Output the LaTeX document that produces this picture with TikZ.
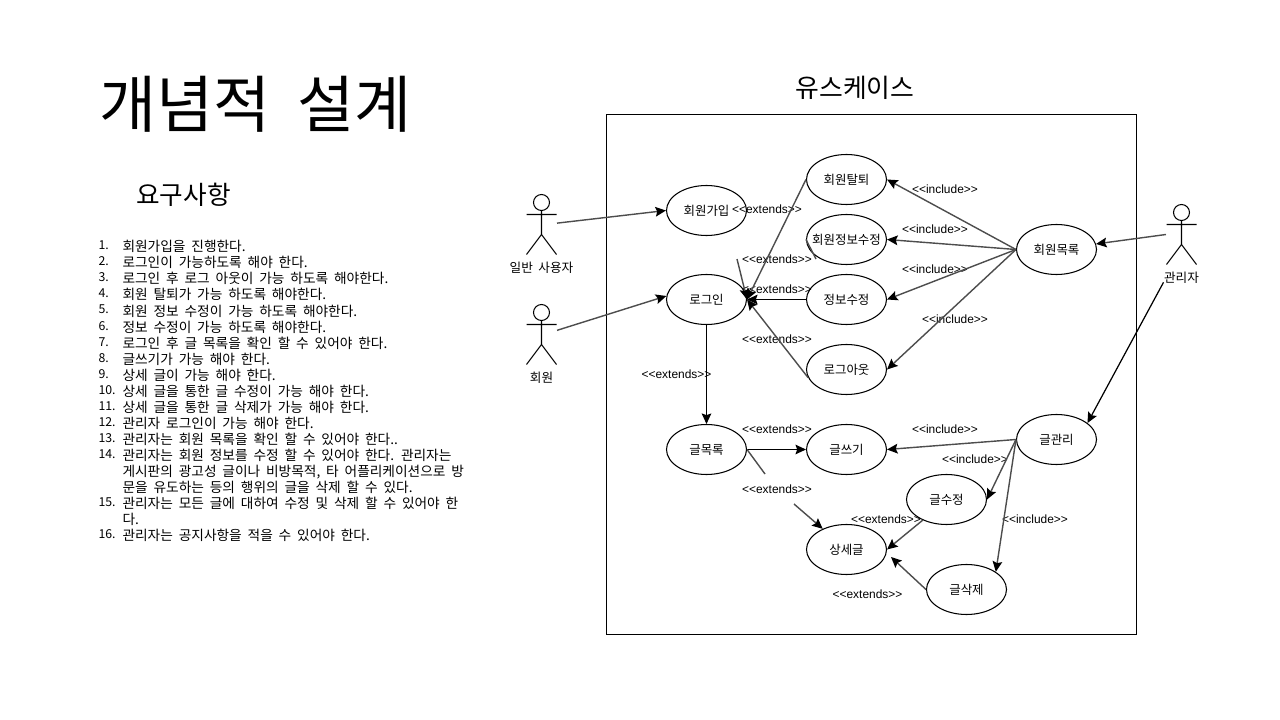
\documentclass[tikz,border=0pt]{standalone}
\usepackage{fontspec}
\setmainfont{Noto Sans CJK KR}
\newfontfamily\latinfont{Liberation Sans}
\newfontfamily\listfamily[WordSpace=1.8]{Noto Sans CJK KR}
\newfontfamily\titlefamily[WordSpace=1.9]{Noto Sans CJK KR}
\definecolor{cgrey}{HTML}{4D4D4D}
\usetikzlibrary{arrows.meta, shapes.geometric}
\tikzset{
  every picture/.style={line width=0.6pt},
  usecase/.style={draw, ellipse, minimum width=16mm, minimum height=10mm, inner sep=-2mm, font=\fontsize{7.1pt}{9pt}\selectfont},
  actorbox/.style={minimum width=6mm, minimum height=12mm, inner sep=0pt},
  actorname/.style={inner sep=0pt, font=\listfamily\fontsize{7.2pt}{9pt}\selectfont},
  stereo/.style={inner sep=0.5pt, font=\latinfont\fontsize{6.8pt}{8pt}\selectfont},
  arrow/.style={-{Stealth[length=6pt, width=5.5pt, inset=1pt, color=black]}},
  slant/.style={arrow, draw=cgrey, line width=0.8pt},
  stub/.style={draw=cgrey, line width=0.8pt},
  listnum/.style={anchor=north west, align=left, inner sep=0pt, font=\fontsize{7pt}{9.13pt}\selectfont},
  listtext/.style={anchor=north west, align=left, inner sep=0pt, font=\listfamily\fontsize{7.8pt}{9.13pt}\selectfont},
}
\begin{document}
\begin{tikzpicture}[x=0.2mm, y=-0.2mm]
  \useasboundingbox (0,0) rectangle (1280,720);
  % titles
  \node[inner sep=0pt, font=\titlefamily\fontsize{35.3pt}{40pt}\selectfont] (title) at (255.5,104) {개념적 설계};
  \node[inner sep=0pt, font=\fontsize{14.6pt}{16pt}\selectfont] (reqtitle) at (183.5,195) {요구사항};
  \node[inner sep=0pt, font=\fontsize{14.7pt}{16pt}\selectfont] (uctitle) at (855,88) {유스케이스};
  % requirements
  \node[listnum] (reqnum) at (98,240.5) {1.\\2.\\3.\\4.\\5.\\6.\\7.\\8.\\9.\\10.\\11.\\12.\\13.\\14.\\[18.26pt]15.\\[9.13pt]16.};
  \node[listtext] (reqtext) at (122,240) {회원가입을 진행한다.\\로그인이 가능하도록 해야 한다.\\로그인 후 로그 아웃이 가능 하도록 해야한다.\\회원 탈퇴가 가능 하도록 해야한다.\\회원 정보 수정이 가능 하도록 해야한다.\\정보 수정이 가능 하도록 해야한다.\\로그인 후 글 목록을 확인 할 수 있어야 한다.\\글쓰기가 가능 해야 한다.\\상세 글이 가능 해야 한다.\\상세 글을 통한 글 수정이 가능 해야 한다.\\상세 글을 통한 글 삭제가 가능 해야 한다.\\관리자 로그인이 가능 해야 한다.\\관리자는 회원 목록을 확인 할 수 있어야 한다..\\관리자는 회원 정보를 수정 할 수 있어야 한다. 관리자는\\게시판의 광고성 글이나 비방목적, 타 어플리케이션으로 방\\문을 유도하는 등의 행위의 글을 삭제 할 수 있다.\\관리자는 모든 글에 대하여 수정 및 삭제 할 수 있어야 한\\다.\\관리자는 공지사항을 적을 수 있어야 한다.};
  % system boundary
  \draw (606.5,114.5) rectangle (1136.5,634.5);
  % actors
  \foreach \n/\x/\y/\t in {guest/541.5/224.5/일반 사용자, member/541.5/334.5/회원, admin/1181.5/234.5/관리자} {
    \node[actorbox] (\n) at (\x,\y) {};
    \node[actorname] (\n-name) at (\x,\y+43) {\t};
    \draw (\x,\y-22) circle [radius=8];
    \draw (\x,\y-14) -- (\x,\y+10) -- (\x-15,\y+30) (\x,\y+10) -- (\x+15,\y+30) (\x-15,\y-10) -- (\x+15,\y-10);
  }
  % use cases
  \begin{scope}[shift={(0.5,0.5)}]
  \node[usecase] (signup) at (706,210) {회원가입};
  \node[usecase] (login) at (706,299) {로그인};
  \node[usecase] (leave) at (846,179) {회원탈퇴};
  \node[usecase] (memberedit) at (846,239) {회원정보수정};
  \node[usecase] (infoedit) at (846,299) {정보수정};
  \node[usecase] (logout) at (846,369) {로그아웃};
  \node[usecase] (memberlist) at (1056,249) {회원목록};
  \node[usecase] (postlist) at (706,449) {글목록};
  \node[usecase] (write) at (846,449) {글쓰기};
  \node[usecase] (detail) at (846,549) {상세글};
  \node[usecase] (edit) at (946,499) {글수정};
  \node[usecase] (delete) at (966,589) {글삭제};
  \node[usecase] (manage) at (1056,439) {글관리};
  \end{scope}
  % labels
  \foreach \n/\x/\y in {ext1/767/209, ext2/777/259, ext3/777/289, ext4/777/339, ext5/676.5/374, ext6/777/429, ext7/777/489, ext8/886/519, ext9/867.5/594}
    \node[stereo] (\n) at (\x,\y) {<<extends>>};
  \foreach \n/\x/\y in {inc1/945/189, inc2/935/229, inc3/935/269, inc4/955/319, inc5/945/429, inc6/975/459, inc7/1035/519}
    \node[stereo] (\n) at (\x,\y) {<<include>>};
  % connectors
  \coordinate (editgapa) at (816,259);
  \coordinate (editgapb) at (737,259);
  \coordinate (listgapa) at (765,474);
  \coordinate (listgapb) at (794,504);
  \coordinate (detailgap) at (891,557);
  \draw[slant] (guest.5) -- (signup.west);
  \draw[slant] (member.15) -- (login.175);
  \draw[slant] (admin.west) -- (memberlist.8);
  \draw[arrow, line width=0.7pt] (admin-name.195) -- (manage.28);
  \draw[stub] (memberedit.west) -- (editgapa);
  \draw[slant] (editgapb) -- (login.east);
  \draw[slant] (leave.west) -- (login.east);
  \draw[arrow] (infoedit.west) -- (login.east);
  \draw[slant] (logout.192) -- (login.east);
  \draw[arrow] (login) -- (postlist);
  \draw[arrow] (postlist) -- (write);
  \draw[stub] (postlist.east) -- (listgapa);
  \draw[slant] (listgapb) -- (detail.139);
  \draw[slant] (memberlist.west) -- (leave.east);
  \draw[slant] (memberlist.west) -- (memberedit.east);
  \draw[slant] (memberlist.west) -- (infoedit.east);
  \draw[slant] (memberlist.west) -- (logout.east);
  \draw[slant] (manage.west) -- (write.east);
  \draw[slant] (manage.west) -- (edit.east);
  \draw[slant] (manage.west) -- (delete.31);
  \draw[slant] (edit.221) -- (detail.east);
  \draw[slant] (delete.west) -- (detailgap);
\end{tikzpicture}
\end{document}
